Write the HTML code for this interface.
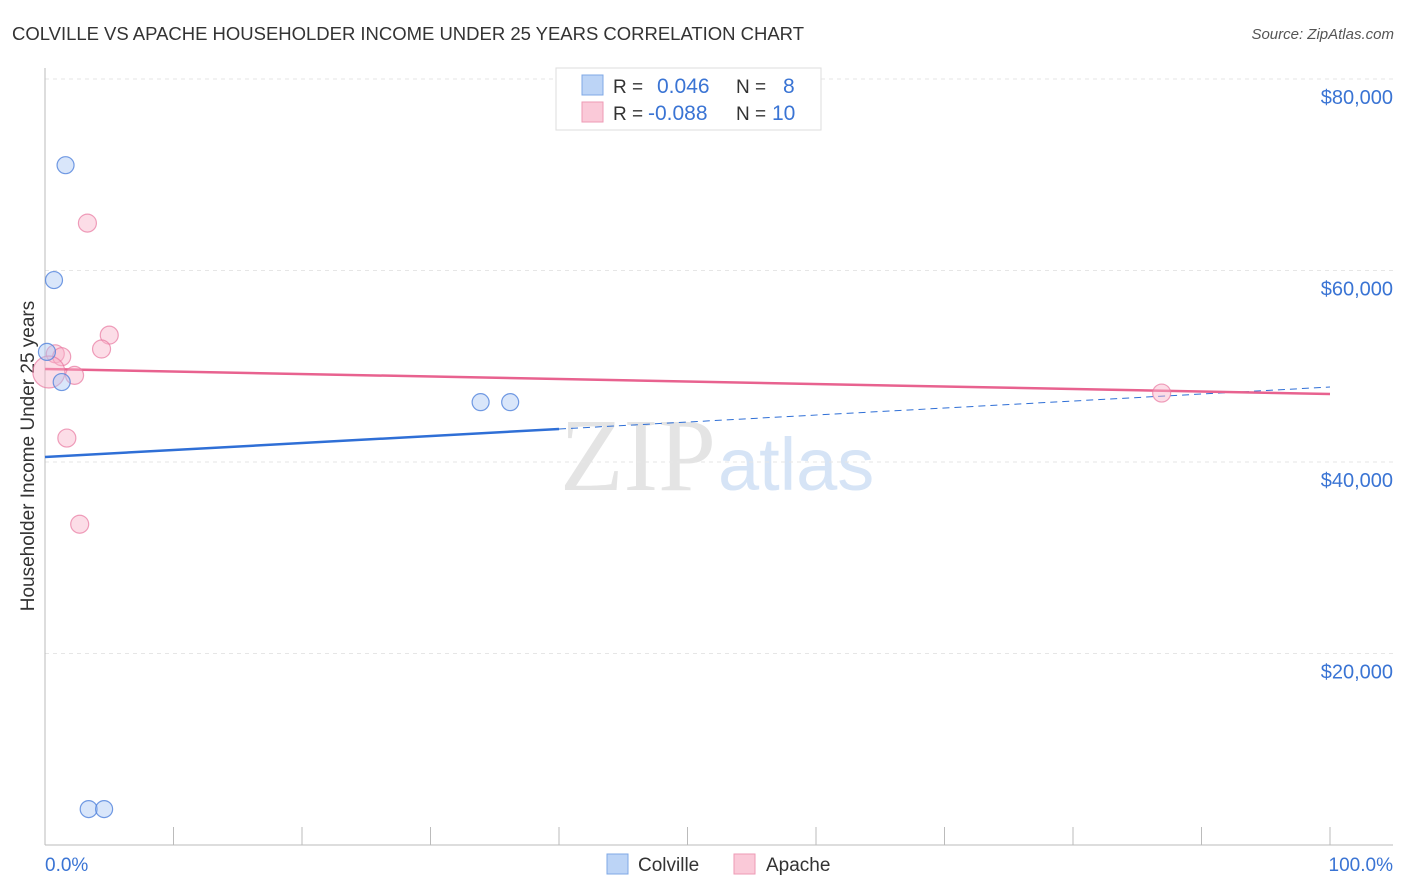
<!DOCTYPE html>
<html><head><meta charset="utf-8">
<style>
body{margin:0;background:#fff;font-family:"Liberation Sans",sans-serif;}
#wrap{position:relative;width:1406px;height:892px;overflow:hidden;}
svg{position:absolute;left:0;top:0;}
</style></head>
<body>
<div id="wrap">
<svg id="chart" width="1406" height="892">
  <text x="12" y="40" font-size="18.5" fill="#333" textLength="792">COLVILLE VS APACHE HOUSEHOLDER INCOME UNDER 25 YEARS CORRELATION CHART</text>
  <text x="1394" y="39" font-size="15" fill="#555" font-style="italic" text-anchor="end">Source: ZipAtlas.com</text>
  <text x="716" y="490" font-size="104" fill="#e4e4e4" font-family="Liberation Serif,serif" text-anchor="end">ZIP</text>
  <text x="718" y="490" font-size="74" fill="#d6e4f6">atlas</text>
  <text transform="translate(34,456) rotate(-90)" font-size="19" fill="#333" text-anchor="middle">Householder Income Under 25 years</text>
  <g id="grid"></g><g id="axes"></g><g id="trends"></g><g id="points"></g>
  <g>
    <rect x="556" y="68" width="265" height="62" fill="#fff" stroke="#ddd"/>
    <rect x="582" y="75" width="21" height="20" fill="#bcd4f6" stroke="#7fa8e6"/>
    <rect x="582" y="102" width="21" height="20" fill="#fac9d8" stroke="#ee9ab5"/>
    <text x="613" y="93" font-size="19" fill="#333">R =</text>
    <text x="657" y="93" font-size="21" fill="#3a74d4">0.046</text>
    <text x="736" y="93" font-size="19" fill="#333">N =</text>
    <text x="783" y="93" font-size="21" fill="#3a74d4">8</text>
    <text x="613" y="120" font-size="19" fill="#333">R =</text>
    <text x="648" y="120" font-size="21" fill="#3a74d4">-0.088</text>
    <text x="736" y="120" font-size="19" fill="#333">N =</text>
    <text x="772" y="120" font-size="21" fill="#3a74d4">10</text>
  </g>
  <g>
    <rect x="607" y="854" width="21" height="20" fill="#bcd4f6" stroke="#7fa8e6"/>
    <text x="638" y="871" font-size="19" fill="#333">Colville</text>
    <rect x="734" y="854" width="21" height="20" fill="#fac9d8" stroke="#ee9ab5"/>
    <text x="766" y="871" font-size="19" fill="#333">Apache</text>
  </g>
</svg>
</div>
<script>
const colvilleX=[1.6,0.7,0.15,1.3,33.9,36.2,3.4,4.6];
const colvilleY=[71000,59000,51500,48350,46250,46250,3750,3750];
const apacheX=[3.3,5.0,4.4,0.8,1.3,2.3,0.3,1.7,2.7,86.9];
const apacheY=[64950,53250,51800,51300,51000,49050,49400,42500,33500,47200];
const apacheR=[9,9,9,9,9,9,16,9,9,9];
const colvilleTrend=[40520,47830];
const apacheTrend=[49710,47100];
const yTicks=[20000,40000,60000,80000];
const yTickLabels=["$20,000","$40,000","$60,000","$80,000"];
const xTicks=[0,10,20,30,40,50,60,70,80,90,100];
const xEdgeLabels=["0.0%","100.0%"];

const NS="http://www.w3.org/2000/svg";
const X=v=>45+v*12.85;
const Y=v=>845-v*0.009575;
function mk(tag,attrs,parent){const e=document.createElementNS(NS,tag);for(const k in attrs)e.setAttribute(k,attrs[k]);document.getElementById(parent).appendChild(e);return e;}

yTicks.forEach((t,i)=>{
  const g=mk('line',{x1:45,x2:1393,y1:Y(t),y2:Y(t),stroke:'#e6e6e6','stroke-dasharray':'4,4'},'grid');
  
  
  const l=mk('text',{x:1393,y:Y(t)+25,'font-size':20,fill:'#3a74d4','text-anchor':'end'},'axes');
  l.textContent=yTickLabels[i];
  
  
});
const ax=mk('line',{x1:45,x2:1393,y1:845,y2:845,stroke:'#bbb'},'axes');


const ay=mk('line',{x1:45,x2:45,y1:68,y2:845,stroke:'#bbb'},'axes');


xTicks.forEach(t=>{
  const k=mk('line',{x1:X(t),x2:X(t),y1:827,y2:845,stroke:'#bbb'},'axes');
  
  
});
const l0=mk('text',{x:45,y:871,'font-size':19,fill:'#3a74d4'},'axes');l0.textContent=xEdgeLabels[0];


const l1=mk('text',{x:1393,y:871,'font-size':19,fill:'#3a74d4','text-anchor':'end'},'axes');l1.textContent=xEdgeLabels[1];



const cAt=p=>colvilleTrend[0]+(colvilleTrend[1]-colvilleTrend[0])*p/100;
const t1=mk('line',{x1:X(0),y1:Y(cAt(0)),x2:X(40),y2:Y(cAt(40)),stroke:'#2f6fd6','stroke-width':2.5},'trends');


const t2=mk('line',{x1:X(40),y1:Y(cAt(40)),x2:X(100),y2:Y(cAt(100)),stroke:'#2f6fd6','stroke-width':1,'stroke-dasharray':'7,5'},'trends');


const t3=mk('line',{x1:X(0),y1:Y(apacheTrend[0]),x2:X(100),y2:Y(apacheTrend[1]),stroke:'#e8628f','stroke-width':2.5},'trends');



apacheX.forEach((x,i)=>{
  const c=mk('circle',{cx:X(x),cy:Y(apacheY[i]),r:apacheR[i],fill:'rgba(248,180,202,0.45)',stroke:'rgba(232,120,160,0.7)','stroke-width':1.2},'points');
  
  
});
colvilleX.forEach((x,i)=>{
  const c=mk('circle',{cx:X(x),cy:Y(colvilleY[i]),r:8.5,fill:'rgba(170,200,245,0.45)',stroke:'rgba(80,130,220,0.8)','stroke-width':1.2},'points');
  
  
});
</script>
</body></html>
